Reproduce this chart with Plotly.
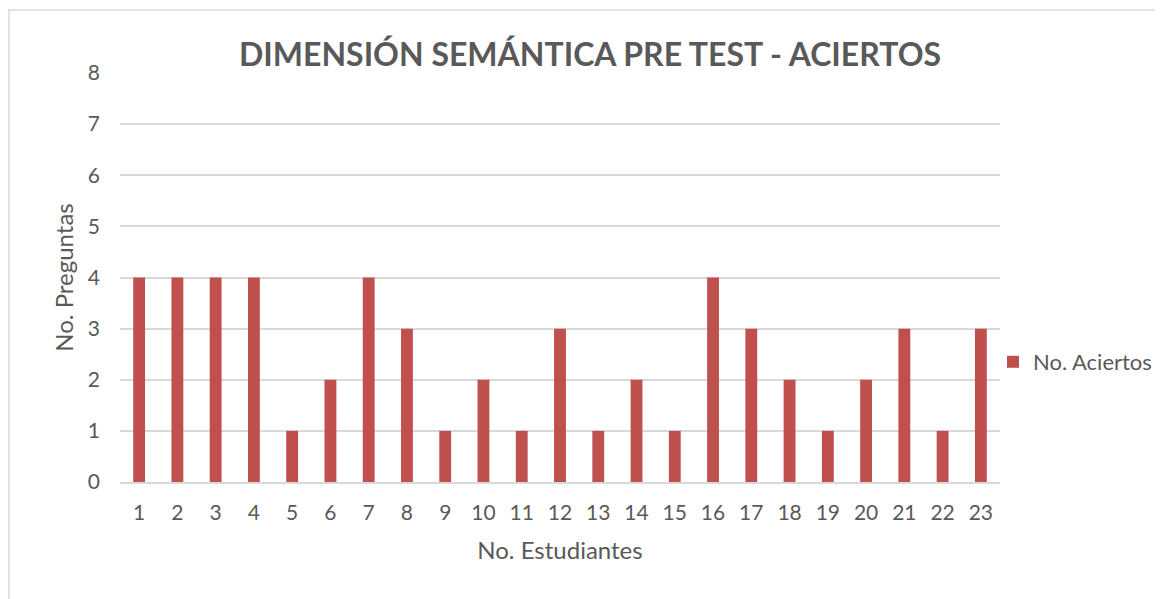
import plotly.graph_objects as go

estudiantes = [str(i) for i in range(1, 24)]
aciertos = [4, 4, 4, 4, 1, 2, 4, 3, 1, 2, 1, 3, 1, 2, 1, 4, 3, 2, 1, 2, 3, 1, 3]

W, H = 1163, 599
OFF = 8  # default page body margin
# target plot area in screenshot pixels
PX0, PX1, PY0, PY1 = 120, 1000, 73, 482
L, T = PX0 - OFF, PY0 - OFF
pw, ph = PX1 - PX0, PY1 - PY0
R, B = W - L - pw, H - T - ph

def px_x(p):
    return (p - PX0) / pw

def px_y(p):
    return (PY1 - p) / ph

font = "Lato, 'Open Sans', sans-serif"
grey = "#595959"

fig = go.Figure(go.Bar(
    x=estudiantes, y=aciertos, name="No. Aciertos",
    marker=dict(color="#C0504D", line=dict(width=0)),
    width=0.31,
))

fig.update_layout(
    width=W, height=H,
    margin=dict(l=L, r=R, t=T, b=B),
    paper_bgcolor="white", plot_bgcolor="white",
    font=dict(family=font, color=grey, size=21),
    title=dict(text="<b>DIMENSIÓN SEMÁNTICA PRE TEST - ACIERTOS</b>",
               x=px_x(590), xref="paper", xanchor="center",
               y=1 - (55 - OFF) / H, yanchor="middle",
               font=dict(size=32, color=grey, family=font)),
    showlegend=True,
    legend=dict(x=px_x(993), xanchor="left", y=px_y(362), yanchor="middle",
                font=dict(size=22, color=grey), itemwidth=30, bgcolor="rgba(0,0,0,0)"),
    xaxis=dict(type="category", showgrid=False, showline=True, linecolor="#D9D9D9",
               linewidth=1.5, ticks="", ticklabelstandoff=11,
               tickfont=dict(size=21, color=grey),
               title=dict(text="No. Estudiantes", font=dict(size=24, color=grey), standoff=19)),
    yaxis=dict(range=[0, 8], dtick=1, showgrid=True, gridcolor="#D9D9D9", gridwidth=1.5,
               zeroline=False, showline=False, ticks="", ticklabelstandoff=19,
               tickfont=dict(size=21, color=grey),
               title=dict(text="No. Preguntas", font=dict(size=24, color=grey), standoff=7)),
    bargap=0.69,
    shapes=[dict(type="rect", xref="paper", yref="paper",
                 x0=px_x(9), x1=px_x(1175), y0=px_y(610), y1=px_y(10),
                 line=dict(color="#D9D9D9", width=1.5), layer="below")],
)

fig.write_html("out.html")
